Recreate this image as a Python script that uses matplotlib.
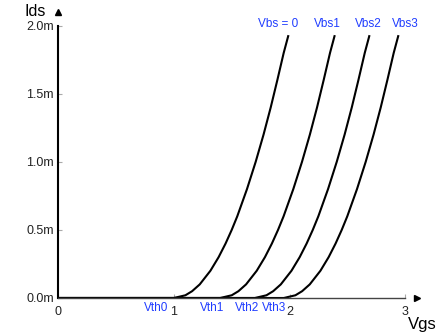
import matplotlib
matplotlib.use("Agg")
import matplotlib.pyplot as plt

plt.rcParams['font.family'] = ['Liberation Sans', 'DejaVu Sans']

# drain current levels (mA) shared by the four curves
ids = [0, 0, 0.02, 0.05, 0.1, 0.2, 0.3, 0.4, 0.5, 0.6, 0.8, 1.0, 1.2, 1.4, 1.6, 1.8, 1.93]

# gate voltage read for each curve at those current levels
vgs_0 = [0, 1.00, 1.10, 1.158, 1.224, 1.316, 1.387, 1.447, 1.50, 1.548, 1.632, 1.707, 1.775, 1.837, 1.894, 1.949, 1.99]
vgs_1 = [0, 1.40, 1.50, 1.558, 1.624, 1.716, 1.787, 1.847, 1.90, 1.948, 2.032, 2.107, 2.175, 2.237, 2.294, 2.349, 2.39]
vgs_2 = [0, 1.70, 1.80, 1.858, 1.924, 2.016, 2.087, 2.147, 2.20, 2.248, 2.332, 2.407, 2.475, 2.537, 2.594, 2.649, 2.69]
vgs_3 = [0, 1.95, 2.05, 2.108, 2.174, 2.266, 2.337, 2.397, 2.45, 2.498, 2.582, 2.657, 2.725, 2.787, 2.844, 2.899, 2.94]

vbs_labels = ["Vbs = 0", "Vbs1", "Vbs2", "Vbs3"]
vbs_x = [1.90, 2.33, 2.68, 3.00]
vth_labels = ["Vth0", "Vth1", "Vth2", "Vth3"]
vth_x = [0.95, 1.44, 1.74, 1.97]

xticks = [0, 1, 2, 3]
yticks = [0, 0.5, 1.0, 1.5, 2.0]
ytick_labels = ["0.0m", "0.5m", "1.0m", "1.5m", "2.0m"]

blue = "#1f3cff"

fig = plt.figure(figsize=(4.48, 3.36), dpi=100)
ax = fig.add_axes([58/448, 38/336, 359/448, 286/336])

for v in [vgs_0, vgs_1, vgs_2, vgs_3]:
    ax.plot(v, ids, color="black", lw=1.5, solid_capstyle="butt")

ax.set_xlim(0, 3.1)
ax.set_ylim(0, 2.1)

ax.spines["top"].set_visible(False)
ax.spines["right"].set_visible(False)
ax.spines["left"].set_color("black")
ax.spines["left"].set_linewidth(1.5)
ax.spines["left"].set_bounds(0, 2.0)
ax.spines["bottom"].set_color("#444444")
ax.spines["bottom"].set_linewidth(1.0)
ax.spines["bottom"].set_bounds(0, 3.0)

ax.set_xticks(xticks)
ax.set_xticklabels([str(t) for t in xticks])
ax.set_yticks(yticks)
ax.set_yticklabels(ytick_labels)
ax.tick_params(direction="in", length=3, width=0.8, color="#aaaaaa",
               labelsize=9, labelcolor="#222222")
ax.tick_params(axis="x", pad=6)
ax.tick_params(axis="y", pad=3)

# axis arrows
ax.plot([1], [0], marker=">", ms=5, color="black", transform=ax.transAxes, clip_on=False)
ax.plot([0], [1], marker="^", ms=5, color="black", transform=ax.transAxes, clip_on=False)

fig.text(35/448, 1 - 12/336, "Ids", fontsize=11.5, ha="center", va="center")
fig.text(422/448, 1 - 325/336, "Vgs", fontsize=12, ha="center", va="center")

for lab, x in zip(vbs_labels, vbs_x):
    ax.text(x, 2.01, lab, color=blue, fontsize=8.5, ha="center", va="center")

for lab, x in zip(vth_labels, vth_x):
    ax.text(x, -0.075, lab, color=blue, fontsize=8.5, ha="right", va="center")

fig.savefig("out.png", dpi=100)
